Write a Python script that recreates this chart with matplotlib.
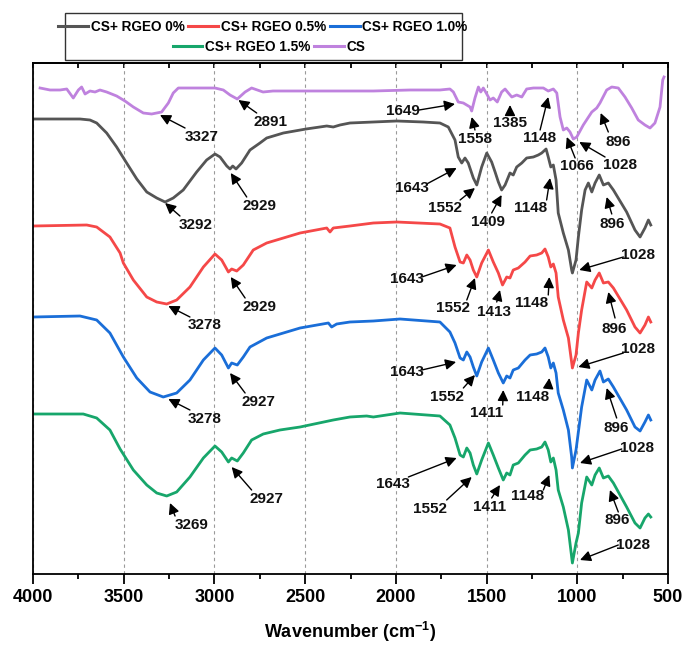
import matplotlib
matplotlib.use('Agg')
import matplotlib.pyplot as plt
from matplotlib.ticker import MultipleLocator, FixedFormatter, FixedLocator
from matplotlib.patches import Rectangle

plt.rcParams['font.family'] = ['Liberation Sans', 'DejaVu Sans']
plt.rcParams['font.weight'] = 'bold'
plt.rcParams['mathtext.fontset'] = 'custom'
plt.rcParams['mathtext.rm'] = 'Liberation Sans:bold'
plt.rcParams['mathtext.bf'] = 'Liberation Sans:bold'
plt.rcParams['mathtext.it'] = 'Liberation Sans:bold:italic'
plt.rcParams['mathtext.default'] = 'bf'

# ---------------- data (wavenumber cm-1, offset transmittance a.u.) ----------------
cs_wn = [3961, 3906, 3851, 3814, 3778, 3750, 3732, 3713, 3686, 3658, 3631, 3594, 3539, 3493,
         3447, 3392, 3346, 3291, 3254, 3227, 3199, 3135, 3061, 2997, 2951, 2914, 2874, 2831,
         2795, 2732, 2677, 2528, 2308, 2124, 1922, 1757, 1702, 1683, 1656, 1628, 1591, 1582,
         1564, 1545, 1532, 1518, 1499, 1481, 1463, 1441, 1417, 1398, 1380, 1361, 1334, 1306,
         1279, 1242, 1187, 1160, 1132, 1113, 1095, 1077, 1058, 1040, 1022, 1003, 967, 920,
         893, 875, 838, 810, 774, 737, 700, 664, 627, 599, 572, 544, 529, 522]
cs_t = [486, 484, 484, 485, 476, 484, 487, 480, 483, 482, 484, 482, 478, 473,
        467, 461, 460, 462, 471, 481, 486, 486, 486, 486, 484, 479, 475, 482,
        486, 482, 483, 483, 483, 483, 484, 484, 485, 482, 472, 471, 467, 463,
        476, 487, 482, 486, 480, 474, 476, 472, 482, 485, 481, 477, 479, 477,
        485, 486, 486, 483, 485, 481, 457, 444, 446, 442, 435, 437, 449, 462,
        466, 471, 484, 487, 486, 477, 466, 454, 449, 446, 451, 467, 494, 497]

rgeo0_wn = [3998, 3906, 3741, 3686, 3649, 3594, 3539, 3484, 3428, 3373, 3318, 3272, 3227, 3172,
            3098, 3043, 2997, 2969, 2932, 2914, 2899, 2881, 2850, 2804, 2749, 2712, 2620, 2495,
            2381, 2345, 2308, 2253, 2124, 1995, 1849, 1757, 1711, 1674, 1656, 1637, 1619, 1601,
            1573, 1554, 1527, 1499, 1472, 1453, 1435, 1417, 1398, 1371, 1353, 1334, 1306, 1279,
            1242, 1215, 1196, 1172, 1160, 1146, 1132, 1117, 1105, 1077, 1049, 1031, 1027, 1007,
            994, 976, 957, 939, 920, 902, 879, 856, 829, 801, 728, 682, 654, 627, 608, 595]
rgeo0_t = [455, 455, 455, 454, 451, 441, 427, 411, 395, 382, 376, 372, 376, 384,
           402, 414, 420, 417, 408, 405, 408, 405, 411, 424, 431, 436, 441, 445,
           448, 447, 449, 451, 452, 453, 452, 451, 447, 434, 417, 411, 416, 411,
           396, 389, 407, 421, 412, 402, 392, 384, 389, 401, 399, 407, 411, 416,
           417, 419, 421, 425, 417, 407, 409, 394, 361, 341, 324, 304, 301, 314,
           337, 364, 384, 391, 382, 391, 399, 389, 391, 384, 362, 344, 337, 346, 354, 349]

rgeo05_wn = [3998, 3704, 3649, 3576, 3520, 3502, 3447, 3373, 3318, 3263, 3208, 3135, 3061, 2997,
             2960, 2923, 2905, 2877, 2841, 2786, 2712, 2528, 2381, 2363, 2345, 2253, 2124, 1995,
             1757, 1702, 1674, 1646, 1628, 1609, 1591, 1573, 1554, 1527, 1490, 1463, 1435, 1412,
             1389, 1371, 1353, 1325, 1288, 1260, 1224, 1196, 1178, 1160, 1146, 1132, 1117, 1105,
             1077, 1049, 1027, 1007, 994, 976, 948, 920, 902, 879, 856, 829, 801, 728,
             682, 654, 627, 608, 595]
rgeo05_t = [348, 349, 347, 337, 321, 311, 294, 277, 272, 270, 274, 287, 307, 320,
            314, 302, 305, 303, 309, 324, 331, 341, 346, 342, 346, 348, 351, 352,
            350, 346, 327, 312, 311, 319, 314, 304, 297, 311, 324, 312, 301, 289,
            297, 296, 304, 306, 312, 318, 319, 321, 325, 317, 307, 310, 301, 277,
            254, 236, 206, 219, 241, 264, 292, 286, 294, 301, 291, 292, 286, 264,
            247, 241, 249, 257, 252]

rgeo10_wn = [3998, 3741, 3649, 3576, 3502, 3428, 3355, 3282, 3208, 3135, 3061, 2997, 2960, 2923,
             2905, 2874, 2841, 2804, 2712, 2528, 2372, 2354, 2326, 2253, 2124, 1977, 1757, 1702,
             1674, 1646, 1628, 1609, 1591, 1573, 1554, 1527, 1490, 1463, 1435, 1408, 1389, 1371,
             1353, 1325, 1288, 1260, 1224, 1196, 1178, 1160, 1146, 1132, 1117, 1105, 1077, 1049,
             1031, 1027, 1007, 994, 976, 948, 920, 902, 875, 856, 829, 801, 728, 682,
             654, 627, 608, 595]
rgeo10_t = [257, 258, 254, 241, 217, 196, 182, 177, 181, 194, 214, 226, 219, 206,
            211, 209, 217, 227, 236, 246, 251, 247, 250, 252, 253, 255, 252, 242,
            231, 216, 214, 222, 217, 207, 198, 212, 226, 214, 201, 191, 198, 196,
            204, 206, 214, 219, 220, 222, 226, 217, 206, 211, 201, 181, 164, 144,
            117, 106, 124, 142, 167, 194, 184, 194, 203, 192, 195, 187, 164, 147,
            143, 152, 159, 154]

rgeo15_wn = [3998, 3723, 3649, 3576, 3520, 3447, 3373, 3318, 3263, 3208, 3135, 3061, 2997, 2960,
             2923, 2905, 2874, 2841, 2795, 2731, 2639, 2528, 2345, 2253, 2161, 2124, 1977, 1757,
             1702, 1674, 1646, 1628, 1609, 1591, 1573, 1554, 1527, 1490, 1463, 1435, 1408, 1389,
             1371, 1353, 1325, 1288, 1260, 1224, 1196, 1178, 1160, 1146, 1132, 1117, 1105, 1077,
             1049, 1027, 1007, 994, 976, 948, 920, 902, 879, 856, 829, 801, 728, 682,
             654, 627, 608, 595]
rgeo15_t = [160, 160, 156, 144, 125, 104, 89, 81, 78, 82, 97, 116, 128, 122,
            112, 116, 113, 121, 134, 140, 144, 147, 154, 157, 158, 157, 161, 158,
            149, 136, 119, 117, 126, 121, 109, 100, 114, 131, 119, 106, 94, 101,
            99, 109, 111, 119, 124, 125, 127, 132, 124, 112, 116, 104, 84, 67,
            44, 11, 31, 41, 71, 97, 89, 99, 106, 96, 98, 91, 67, 51,
            46, 56, 60, 57]

series_labels = ['CS+ RGEO 0%', 'CS+ RGEO 0.5%', 'CS+ RGEO 1.0%', 'CS+ RGEO 1.5%', 'CS']
series_wn = [rgeo0_wn, rgeo05_wn, rgeo10_wn, rgeo15_wn, cs_wn]
series_t = [rgeo0_t, rgeo05_t, rgeo10_t, rgeo15_t, cs_t]
series_colors = ['#555555', '#f54848', '#1a6ed8', '#17a66b', '#bf82de']

x_ticks = [4000, 3500, 3000, 2500, 2000, 1500, 1000, 500]

# peak annotations: label, arrow tip (wn, t), arrow tail (wn, t), text centre (wn, t)
peak_notes = [
    # CS
    ('3327', (3300, 459), (3162, 446), (3070, 437)),
    ('2891', (2868, 474), (2767, 461), (2690, 452)),
    ('1649', (1674, 470), (1872, 464), (1959, 463)),
    ('1558', (1582, 457), (1564, 444), (1564, 435)),
    ('1385', (1371, 469), (1371, 459), (1371, 451)),
    ('1148', (1160, 477), (1205, 444), (1209, 436)),
    ('1066', (1058, 437), (1012, 416), (1000, 408)),
    ('1028', (989, 432), (847, 417), (764, 409)),
    ('896', (871, 461), (829, 442), (774, 432)),
    # 0 %
    ('3292', (3272, 371), (3190, 358), (3102, 349)),
    ('2929', (2910, 401), (2822, 377), (2753, 368)),
    ('1643', (1665, 406), (1830, 390), (1913, 386)),
    ('1552', (1564, 386), (1646, 374), (1729, 366)),
    ('1409', (1417, 379), (1472, 361), (1490, 352)),
    ('1148', (1150, 396), (1169, 374), (1257, 366)),
    ('896', (838, 377), (810, 360), (810, 350)),
    ('1028', (989, 304), (746, 317), (664, 319)),
    # 0.5 %
    ('3278', (3254, 268), (3135, 257), (3052, 249)),
    ('2929', (2910, 297), (2831, 276), (2753, 267)),
    ('1643', (1665, 309), (1857, 297), (1940, 295)),
    ('1552', (1564, 296), (1609, 274), (1683, 266)),
    ('1413', (1426, 284), (1444, 272), (1459, 262)),
    ('1148', (1154, 297), (1160, 279), (1251, 271)),
    ('896', (829, 282), (792, 256), (798, 245)),
    ('1028', (994, 207), (746, 221), (664, 225)),
    # 1.0 %
    ('3278', (3254, 175), (3135, 164), (3052, 155)),
    ('2927', (2914, 201), (2831, 181), (2758, 172)),
    ('1643', (1668, 212), (1857, 204), (1940, 202)),
    ('1552', (1564, 199), (1628, 186), (1720, 177)),
    ('1411', (1408, 184), (1411, 169), (1499, 161)),
    ('1148', (1154, 196), (1160, 186), (1246, 177)),
    ('896', (838, 186), (783, 156), (787, 146)),
    ('1028', (985, 111), (755, 125), (669, 126)),
    # 1.5 %
    ('3269', (3245, 71), (3217, 58), (3125, 49)),
    ('2927', (2905, 107), (2795, 84), (2712, 75)),
    ('1643', (1665, 116), (1931, 97), (2014, 90)),
    ('1552', (1582, 97), (1720, 74), (1812, 65)),
    ('1411', (1426, 89), (1472, 76), (1481, 67)),
    ('1148', (1154, 99), (1187, 84), (1275, 78)),
    ('896', (820, 84), (774, 62), (779, 54)),
    ('1028', (985, 14), (774, 29), (691, 29)),
]

# ---------------- figure ----------------
W, H = 686, 646
fig = plt.figure(figsize=(W / 100, H / 100), dpi=100)
ax = fig.add_axes([33 / W, 1 - 574 / H, 635 / W, 511 / H])

lines = []
for lab, wn, t, c in zip(series_labels, series_wn, series_t, series_colors):
    ln, = ax.plot(wn, t, color=c, lw=2.0, label=lab, solid_joinstyle='round')
    lines.append(ln)

ax.set_xlim(x_ticks[0], x_ticks[-1])
ax.set_ylim(0, 511)
ax.set_yticks([])
ax.xaxis.set_major_locator(FixedLocator(x_ticks))
ax.xaxis.set_major_formatter(FixedFormatter([str(v) for v in x_ticks]))
ax.xaxis.set_minor_locator(MultipleLocator(250))
ax.tick_params(axis='x', which='major', direction='out', length=7, width=1.3,
               labelsize=13, pad=4)
ax.tick_params(axis='x', which='minor', direction='out', length=3.5, width=1.3)
for lbl in ax.get_xticklabels():
    lbl.set_fontweight('bold')
for sp in ax.spines.values():
    sp.set_linewidth(1.3)
ax.grid(axis='x', which='major', linestyle=(0, (3, 3)), color='#9a9a9a', lw=0.8)

sec = ax.secondary_xaxis('top')
sec.xaxis.set_major_locator(FixedLocator(x_ticks))
sec.xaxis.set_minor_locator(MultipleLocator(250))
sec.tick_params(which='both', direction='in', length=3.5, width=1.3, labeltop=False)
sec.spines['top'].set_linewidth(1.3)

ax.set_xlabel('Wavenumber (cm$^{-1}$)', fontsize=13, fontweight='bold', labelpad=10)

for lab, tip, tail, txt in peak_notes:
    ax.annotate('', xy=tip, xytext=tail,
                arrowprops=dict(arrowstyle='-|>', color='black', lw=1.0,
                                shrinkA=0, shrinkB=0, mutation_scale=16))
    ax.text(txt[0], txt[1], lab, ha='center', va='center', fontsize=11,
            fontweight='bold', color='#111111')

# legend: two centred rows inside one frame
prop = {'weight': 'bold', 'size': 9.8}
leg_kw = dict(frameon=False, handlelength=2.2, handletextpad=0.2,
              columnspacing=0.25, borderpad=0.0, borderaxespad=0.0,
              bbox_transform=fig.transFigure, loc='center', prop=prop)
leg1 = fig.legend(lines[:3], series_labels[:3], ncol=3,
                  bbox_to_anchor=(263 / W, 1 - 27 / H), **leg_kw)
leg2 = fig.legend(lines[3:], series_labels[3:], ncol=2,
                  bbox_to_anchor=(269 / W, 1 - 47 / H), **leg_kw)
for lg in (leg1, leg2):
    for h in lg.legend_handles:
        h.set_linewidth(2.2)
fig.patches.append(Rectangle((65 / W, 1 - 60 / H), 397 / W, 47 / H, transform=fig.transFigure,
                             fill=False, edgecolor='#333333', lw=1.0))

fig.savefig('out.png', dpi=100)
